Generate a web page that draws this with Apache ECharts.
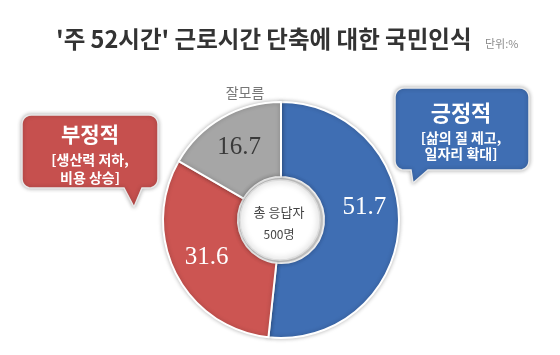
<!DOCTYPE html>
<html><head><meta charset="utf-8">
<script src="https://cdn.jsdelivr.net/npm/echarts@6/dist/echarts.min.js"></script>
<style>html,body{margin:0;padding:0;background:#fff}#c{width:560px;height:355px}</style>
</head><body><div id="c"></div>
<script>
const categories = ['긍정적', '부정적', '잘모름'];
const values = [51.7, 31.6, 16.7];
const sliceColors = ['#3f6eb3', '#cc5552', '#a6a6a6'];
const labelColors = ['#ffffff', '#ffffff', '#3a3a3a'];
const titleText = "'주 52시간' 근로시간 단축에 대한 국민인식";
const unitText = '단위:%';
const centerLines = ['총 응답자', '500명'];
const negLines = ['부정적', '[생산력 저하,', '비용 상승]'];
const posLines = ['긍정적', '[삶의 질 제고,', '일자리 확대]'];

const KR = '"Noto Sans CJK KR", "Noto Sans", sans-serif';
const chart = echarts.init(document.getElementById('c'), null, {renderer: 'canvas'});

function bubble(x, y, w, h, r, tail) {
  const [b1, b2, tx, ty] = tail;
  const pts = [];
  function arc(cx, cy, a0, a1) {
    for (let k = 0; k <= 6; k++) {
      const a = (a0 + (a1 - a0) * k / 6) * Math.PI / 180;
      pts.push([cx + r * Math.cos(a), cy + r * Math.sin(a)]);
    }
  }
  arc(x + r, y + r, 180, 270);
  arc(x + w - r, y + r, 270, 360);
  arc(x + w - r, y + h - r, 0, 90);
  pts.push([b2, y + h], [tx, ty], [b1, y + h]);
  arc(x + r, y + h - r, 90, 180);
  return pts;
}

const subStyle = {fontFamily: KR, fontSize: 14, fontWeight: 'bold', fill: '#fff', align: 'center', verticalAlign: 'middle'};

const option = {
  backgroundColor: '#ffffff',
  animation: false,
  title: [{
    text: titleText, left: 51, top: 22,
    textStyle: {fontFamily: KR, fontSize: 23.5, fontWeight: 'bold', color: '#333333'}
  }, {
    text: unitText, left: 480, top: 33,
    textStyle: {fontFamily: KR, fontSize: 11, fontWeight: 'normal', color: '#8a8a8a'}
  }],
  series: [{
    type: 'pie',
    center: [281, 220],
    radius: [43, 118],
    startAngle: 90,
    clockwise: true,
    silent: true,
    itemStyle: {borderColor: '#ffffff', borderWidth: 2, shadowBlur: 4, shadowColor: 'rgba(0,0,0,0.25)'},
    labelLine: {show: false},
    data: categories.map((c, i) => ({
      name: c, value: values[i],
      itemStyle: {color: sliceColors[i]},
      label: {
        show: true, position: 'inside', formatter: '{c}',
        fontFamily: '"Liberation Serif", serif', fontSize: 25,
        color: labelColors[i],
        offset: i === 0 ? [0, -17] : [0, 0]
      }
    }))
  }, {
    type: 'pie',
    center: [280, 220],
    radius: [0, 40],
    silent: true,
    label: {show: false},
    labelLine: {show: false},
    itemStyle: {color: '#ffffff', borderColor: '#dddddd', borderWidth: 1.5, shadowBlur: 6, shadowColor: 'rgba(0,0,0,0.4)'},
    data: [{name: 'center', value: 1}]
  }],
  graphic: [
    {type: 'text', x: 279, y: 212, z: 100, style: {text: centerLines[0], fontFamily: KR, fontSize: 13, fill: '#444', align: 'center', verticalAlign: 'middle'}},
    {type: 'text', x: 279, y: 234, z: 100, style: {text: centerLines[1], fontFamily: KR, fontSize: 12, fill: '#444', align: 'center', verticalAlign: 'middle'}},
    {type: 'text', x: 245, y: 93, z: 100, style: {text: categories[2], fontFamily: KR, fontSize: 14, fill: '#777777', align: 'center', verticalAlign: 'middle'}},
    {type: 'polygon', z: 90, shape: {points: bubble(22, 115, 136, 73, 9, [124, 142, 134, 207])},
      style: {fill: '#c6504e', stroke: '#e8e8e8', lineWidth: 1.5, shadowBlur: 4, shadowColor: 'rgba(0,0,0,0.3)'}},
    {type: 'text', x: 90, y: 134, z: 100, style: {text: negLines[0], fontFamily: KR, fontSize: 21, fontWeight: 'bold', fill: '#fff', align: 'center', verticalAlign: 'middle'}},
    {type: 'text', x: 90, y: 160, z: 100, style: Object.assign({}, subStyle, {text: negLines[1]})},
    {type: 'text', x: 90, y: 178, z: 100, style: Object.assign({}, subStyle, {text: negLines[2]})},
    {type: 'polygon', z: 90, shape: {points: bubble(395, 88, 134, 82, 9, [411, 428, 413, 183])},
      style: {fill: '#3f6eb3', stroke: '#e8e8e8', lineWidth: 1.5, shadowBlur: 4, shadowColor: 'rgba(0,0,0,0.3)'}},
    {type: 'text', x: 461, y: 113, z: 100, style: {text: posLines[0], fontFamily: KR, fontSize: 22, fontWeight: 'bold', fill: '#fff', align: 'center', verticalAlign: 'middle'}},
    {type: 'text', x: 461, y: 138, z: 100, style: Object.assign({}, subStyle, {text: posLines[1]})},
    {type: 'text', x: 461, y: 154, z: 100, style: Object.assign({}, subStyle, {text: posLines[2]})}
  ]
};
chart.setOption(option);
</script>
</body></html>
